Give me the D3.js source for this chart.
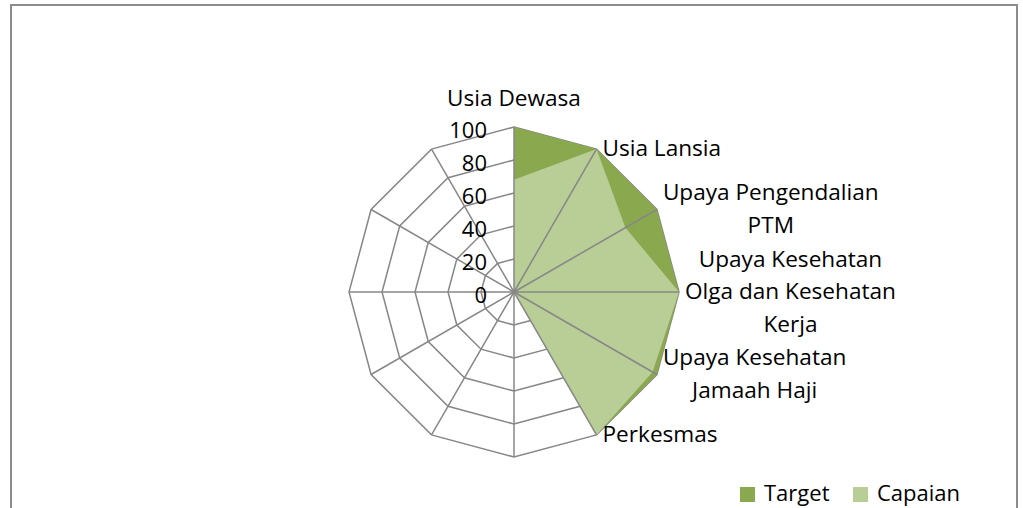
<!DOCTYPE html>
<html>
<head>
<meta charset="utf-8">
<script src="https://cdn.jsdelivr.net/npm/d3@7"></script>
<style>
  body { margin: 0; background: #fff; }
  svg text { font-family: "Open Sans", sans-serif; font-size: 22px; fill: #000; }
  svg text.cat { font-size: 22.6px; }
</style>
</head>
<body>
<div id="graf"></div>
<script>
// I. Datos
categorias = ['Usia Dewasa', 'Usia Lansia', 'Upaya Pengendalian PTM',
  'Upaya Kesehatan Olga dan Kesehatan Kerja', 'Upaya Kesehatan Jamaah Haji',
  'Perkesmas', '', '', '', '', '', '']
// etiquetas partidas en renglones como en la imagen
renglones = [['Usia Dewasa'], ['Usia Lansia'], ['Upaya Pengendalian', 'PTM'],
  ['Upaya Kesehatan', 'Olga dan Kesehatan', 'Kerja'],
  ['Upaya Kesehatan', 'Jamaah Haji'], ['Perkesmas'], [], [], [], [], [], []]
target  = [100, 100, 100, 100, 100, 100, 0, 0, 0, 0, 0, 0]
capaian = [68, 100, 78, 100, 97, 100, 0, 0, 0, 0, 0, 0]
ticks = [0, 20, 40, 60, 80, 100]
series = ['Target', 'Capaian']

// II. Configuración
ancho_total = 1023
alto_total = 508
cx = 514
cy = 292
radio = 165

colores = { Target: '#8aa84e', Capaian: '#b9cd96' }
gris = '#878787'

svg = d3.select('#graf').append('svg')
        .attr('width', ancho_total)
        .attr('height', alto_total)

// marco del gráfico
svg.append('rect')
   .attr('x', 11).attr('y', 5)
   .attr('width', 1006).attr('height', 530)
   .attr('fill', '#fff')
   .attr('stroke', '#8c8c8c')
   .attr('stroke-width', 2)

g = svg.append('g')
       .attr('transform', `translate(${cx}, ${cy})`)

r = d3.scaleLinear().domain([0, 100]).range([0, radio])
angulo = d3.scaleLinear().domain([0, categorias.length]).range([0, 2 * Math.PI])

radial = d3.lineRadial()
           .angle((d, i) => angulo(i))
           .radius(d => r(d))
           .curve(d3.curveLinearClosed)

// a. anillos de la telaraña
g.selectAll('.anillo')
 .data(ticks.filter(t => t > 0))
 .enter()
 .append('path')
   .attr('class', 'anillo')
   .attr('d', t => radial(categorias.map(() => t)))
   .attr('fill', 'none')
   .attr('stroke', gris)
   .attr('stroke-width', 1.5)

// b. áreas de las series
datos = { Target: target, Capaian: capaian }
g.selectAll('.area')
 .data(series)
 .enter()
 .append('path')
   .attr('class', 'area')
   .attr('d', s => radial(datos[s]))
   .attr('fill', s => colores[s])

// c. rayos
punto = (i, v) => [Math.sin(angulo(i)) * r(v), -Math.cos(angulo(i)) * r(v)]
g.selectAll('.rayo')
 .data(categorias)
 .enter()
 .append('line')
   .attr('class', 'rayo')
   .attr('x1', 0).attr('y1', 0)
   .attr('x2', (d, i) => punto(i, 100)[0])
   .attr('y2', (d, i) => punto(i, 100)[1])
   .attr('stroke', gris)
   .attr('stroke-width', 1.5)

// d. eje de valores
yEje = d3.scaleLinear().domain([0, 100]).range([0, -radio])
ejeGrupo = g.append('g').attr('transform', 'translate(0, 3)')
ejeGrupo.call(d3.axisLeft(yEje).tickValues(ticks).tickSize(0).tickPadding(27))
ejeGrupo.select('.domain').remove()
ejeGrupo.selectAll('text')
        .style('font-family', '"Open Sans", sans-serif')
        .style('font-size', '22px')
        .attr('fill', '#000')

// e. etiquetas de categorías
alto_renglon = 32.5
renglones.forEach((lineas, i) => {
  if (!lineas.length) return
  const [px, py] = punto(i, 100)
  const t = g.append('text').attr('class', 'cat').attr('text-anchor', 'middle')
  lineas.forEach((l, k) => {
    t.append('tspan').attr('x', 0).attr('dy', k === 0 ? 0 : alto_renglon).text(l)
  })
  const caja = t.node().getBBox()
  if (i === 0) {
    t.attr('transform', `translate(${px}, ${py - 21})`)
  } else {
    const izq = px + 6 + caja.width / 2
    const arriba = py - (lineas.length - 1) * alto_renglon / 2 + 7
    t.attr('transform', `translate(${izq}, ${arriba})`)
  }
})

// f. leyenda
leyenda = svg.append('g').attr('transform', 'translate(740, 487)')
pos_x = [0, 113]
series.forEach((s, i) => {
  leyenda.append('rect')
    .attr('x', pos_x[i]).attr('y', 0)
    .attr('width', 15).attr('height', 15)
    .attr('fill', colores[s])
  leyenda.append('text')
    .attr('x', pos_x[i] + 24).attr('y', 14)
    .text(s)
})
</script>
</body>
</html>
